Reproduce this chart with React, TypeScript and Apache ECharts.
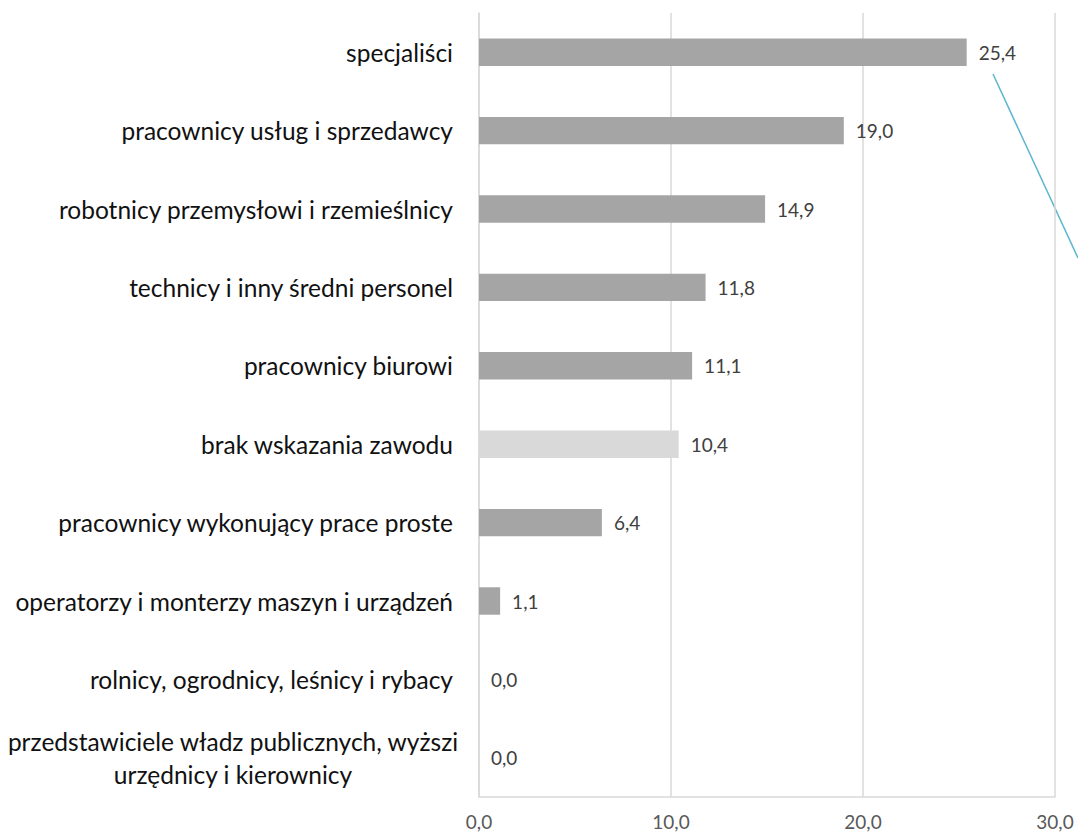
import React, { useEffect, useRef } from "react";
import * as echarts from "echarts";

const categories = [
  "specjaliści",
  "pracownicy usług i sprzedawcy",
  "robotnicy przemysłowi i rzemieślnicy",
  "technicy i inny średni personel",
  "pracownicy biurowi",
  "brak wskazania zawodu",
  "pracownicy wykonujący prace proste",
  "operatorzy i monterzy maszyn i urządzeń",
  "rolnicy, ogrodnicy, leśnicy i rybacy",
  "przedstawiciele władz publicznych, wyższi\nurzędnicy i kierownicy",
];
const values = [25.4, 19.0, 14.9, 11.8, 11.1, 10.4, 6.4, 1.1, 0.0, 0.0];
const highlighted = ["brak wskazania zawodu"];
const xTicks = [0, 10, 20, 30];

const FONT = "Lato";

export default function App() {
  const ref = useRef<HTMLDivElement>(null);
  useEffect(() => {
    if (!ref.current) return;
    const chart = echarts.init(ref.current, undefined, { renderer: "svg" });
    const fmt = (v: number) => v.toFixed(1).replace(".", ",");
    chart.setOption({
      animation: false,
      textStyle: { fontFamily: FONT },
      grid: { left: 479, right: 23, top: 13, bottom: 42, containLabel: false },
      xAxis: {
        type: "value",
        min: xTicks[0],
        max: xTicks[xTicks.length - 1],
        interval: 10,
        axisLine: { show: true, lineStyle: { color: "#D9D9D9", width: 1.5 } },
        axisTick: { show: false },
        splitLine: { show: true, lineStyle: { color: "#D9D9D9", width: 1.5 } },
        axisLabel: {
          formatter: (v: number) => fmt(v),
          color: "#595959",
          fontSize: 19,
          fontFamily: FONT,
          margin: 15,
        },
      },
      yAxis: {
        type: "category",
        data: categories,
        inverse: true,
        axisLine: { show: true, lineStyle: { color: "#D9D9D9", width: 1.5 } },
        axisTick: { show: false },
        axisLabel: {
          color: "#111111",
          fontSize: 24.5,
          fontFamily: FONT,
          margin: 26,
          lineHeight: 33,
          formatter: (v: string) => {
            if (v.includes("\n")) {
              return v
                .split("\n")
                .map((l) => `{c|${l}}`)
                .join("\n");
            }
            return v;
          },
          rich: {
            c: {
              width: 440,
              align: "center",
              fontSize: 24.5,
              fontFamily: FONT,
              color: "#111111",
              lineHeight: 33,
            },
          },
        },
      },
      series: [
        {
          type: "bar",
          barWidth: "35%",
          data: categories.map((c, i) => ({
            value: values[i],
            itemStyle: { color: highlighted.includes(c) ? "#D9D9D9" : "#A5A5A5" },
          })),
          label: {
            show: true,
            position: "right",
            distance: 12,
            formatter: (p: any) => fmt(p.value),
            color: "#404040",
            fontSize: 19,
            fontFamily: FONT,
          },
        },
      ],
      graphic: [
        {
          type: "line",
          shape: { x1: 993, y1: 74, x2: 1078, y2: 258 },
          style: { stroke: "#5BB6CF", lineWidth: 1.5 },
          silent: true,
        },
      ],
    });
    return () => chart.dispose();
  }, []);
  return <div ref={ref} style={{ width: 1078, height: 839, position: "absolute", left: 0, top: 0 }} />;
}
